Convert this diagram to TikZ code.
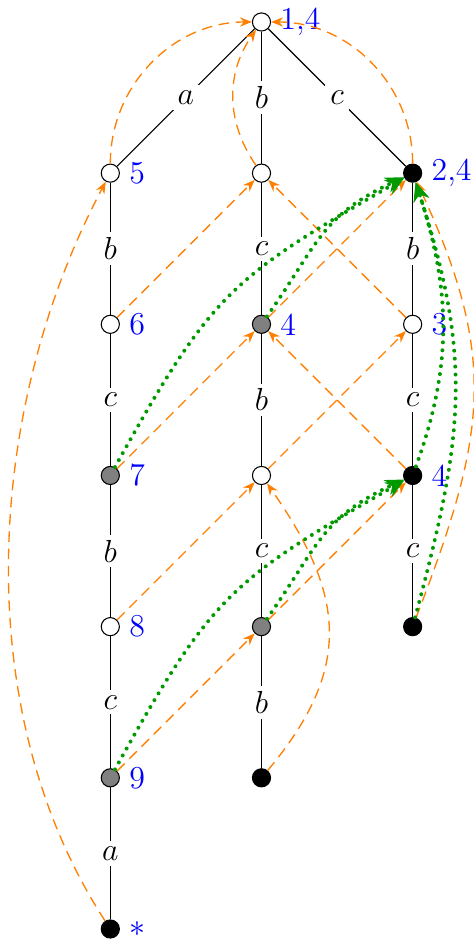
\documentclass[tikz,border=0pt]{standalone}
\usepackage{xcolor}
\usepackage{tikz}
\usetikzlibrary{positioning,arrows.meta}
\tikzset{
  vtx/.style={circle, draw, inner sep=0pt, minimum size=2.4mm, fill=white},
  half/.style={vtx, fill=gray},
  full/.style={vtx, fill=black},
  sym/.style={font=\large, fill=white, inner sep=2pt},
  num/.style={text=blue, font=\large},
  slink/.style={-{Stealth[length=4.5pt, width=3.5pt]}, orange, dash pattern=on 4pt off 2.5pt, line width=0.5pt},
  jump/.style={-{Stealth[length=7pt, width=6pt]}, green!60!black, line width=1.5pt, line cap=round, dash pattern=on 0pt off 3pt},
}

\begin{document}
\begin{tikzpicture}[
  node distance=2cm and 2cm, on grid,
]
  \useasboundingbox (-3.4596,0.291) rectangle (2.8114,-12.146);

  \node[vtx, label={[num]right:1,4}] (r) {};
  % branch a
  \node[vtx, below left=of r, label={[num]right:5}] (a1) {};
  \node[vtx, below=of a1, label={[num]right:6}] (a2) {};
  \node[half, below=of a2, label={[num]right:7}] (a3) {};
  \node[vtx, below=of a3, label={[num]right:8}] (a4) {};
  \node[half, below=of a4, label={[num]right:9}] (a5) {};
  \node[full, below=of a5, label={[num]right:$*$}] (a6) {};
  % branch b
  \node[vtx, below=of r] (b1) {};
  \node[half, below=of b1, label={[num]right:4}] (b2) {};
  \node[vtx, below=of b2] (b3) {};
  \node[half, below=of b3] (b4) {};
  \node[full, below=of b4] (b5) {};
  % branch c
  \node[full, below right=of r, label={[num]right:2,4}] (c1) {};
  \node[vtx, below=of c1, label={[num]right:3}] (c2) {};
  \node[full, below=of c2, label={[num]right:4}] (c3) {};
  \node[full, below=of c3] (c4) {};

  \draw (r) -- node[sym]{$a$} (a1);
  \draw (a1) -- node[sym]{$b$} (a2);
  \draw (a2) -- node[sym]{$c$} (a3);
  \draw (a3) -- node[sym]{$b$} (a4);
  \draw (a4) -- node[sym]{$c$} (a5);
  \draw (a5) -- node[sym]{$a$} (a6);
  \draw (r) -- node[sym]{$b$} (b1);
  \draw (b1) -- node[sym]{$c$} (b2);
  \draw (b2) -- node[sym]{$b$} (b3);
  \draw (b3) -- node[sym]{$c$} (b4);
  \draw (b4) -- node[sym]{$b$} (b5);
  \draw (r) -- node[sym]{$c$} (c1);
  \draw (c1) -- node[sym]{$b$} (c2);
  \draw (c2) -- node[sym]{$c$} (c3);
  \draw (c3) -- node[sym]{$c$} (c4);

  % suffix links
  \draw[slink] (a1) to[out=90, in=180] (r);
  \draw[slink] (b1) to[out=125, in=235] (r);
  \draw[slink] (c1) to[out=90, in=0] (r);
  \draw[slink] (a2) -- (b1);
  \draw[slink] (a3) -- (b2);
  \draw[slink] (a4) -- (b3);
  \draw[slink] (a5) -- (b4);
  \draw[slink] (b2) -- (c1);
  \draw[slink] (c2) -- (b1);
  \draw[slink] (b3) -- (c2);
  \draw[slink] (c3) -- (b2);
  \draw[slink] (b4) -- (c3);
  \draw[slink] (b5) to[out=50, in=-55, looseness=1.2] (b3);
  \draw[slink] (a6) to[out=123, in=242, looseness=0.88] (a1);
  \draw[slink] (c4) to[out=69, in=-65, looseness=1.15] (c1);

  \draw[jump] (a3) to[out=61, in=210, looseness=1.25] (c1);
  \draw[jump] (b2) to[out=55, in=205, looseness=1.2] (c1);
  \draw[jump] (a5) to[out=61, in=210, looseness=1.25] (c3);
  \draw[jump] (b4) to[out=55, in=205, looseness=1.2] (c3);
  \draw[jump] (c3) to[out=70, in=-72] (c1);
  \draw[jump] (c4) to[out=75, in=-72, looseness=1.1] (c1);
\end{tikzpicture}
\end{document}
